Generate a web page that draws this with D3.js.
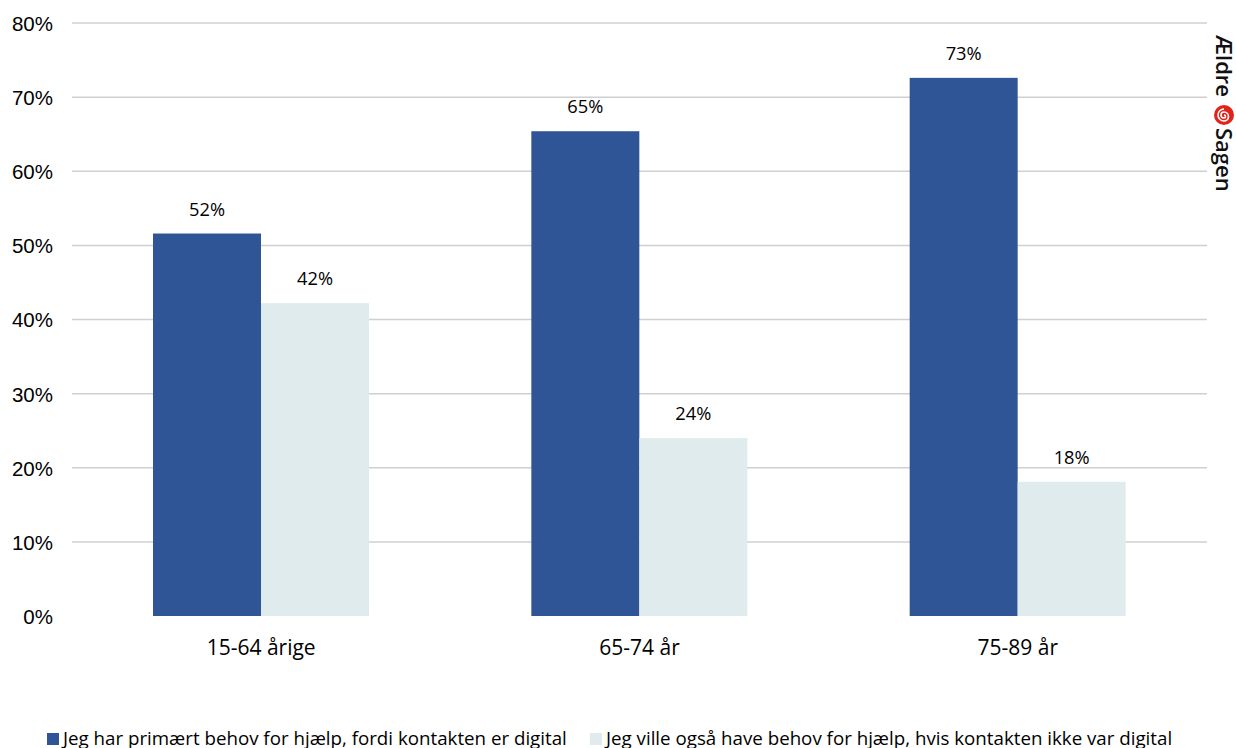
<!DOCTYPE html>
<html><head><meta charset="utf-8">
<script src="https://cdn.jsdelivr.net/npm/d3@7"></script>
<style>body{margin:0;background:#fff}svg{display:block}</style>
</head><body>
<svg id="c" width="1236" height="748"></svg>
<script>
const categories = ["15-64 årige", "65-74 år", "75-89 år"];
const seriesNames = ["Jeg har primært behov for hjælp, fordi kontakten er digital", "Jeg ville også have behov for hjælp, hvis kontakten ikke var digital"];
const primaryValues = [51.6, 65.4, 72.6];
const alsoValues = [42.2, 24.0, 18.1];
const yTicks = [0, 10, 20, 30, 40, 50, 60, 70, 80];
const colors = ["#2f5597", "#dfebed"];

const svg = d3.select("#c");
const pLeft = 72, pRight = 1207, pTop = 23, pBottom = 616;
const bodyFont = "Open Sans, sans-serif";

// find font size so that a sample string reaches a target width
function fitSize(sample, target, family, weight) {
  const t = svg.append("text").attr("font-family", family).attr("font-size", 100)
    .attr("font-weight", weight || 400).text(sample);
  const w = t.node().getComputedTextLength();
  t.remove();
  return 100 * target / w;
}
const labelSize = fitSize("52%", 36, bodyFont);
const catSize = fitSize("15-64 årige", 109, bodyFont);
const legSize = fitSize(seriesNames[0], 504, bodyFont);

const x0 = d3.scaleBand().domain(categories).range([pLeft, pRight]).padding(0);
const x1 = d3.scaleBand().domain([0, 1]).range([81, 297]).padding(0);
const y = d3.scaleLinear().domain([0, 80]).range([pBottom, pTop]);

// gridlines
svg.append("g").selectAll("line").data(yTicks.filter(d => d > 0)).join("line")
  .attr("x1", pLeft).attr("x2", pRight)
  .attr("y1", d => y(d)).attr("y2", d => y(d))
  .attr("stroke", "#d0d0d0").attr("stroke-width", 1.5);

// y axis labels
const yAxis = d3.axisLeft(y).tickValues(yTicks).tickFormat(d => d + "%").tickSize(0).tickPadding(0);
const ga = svg.append("g").attr("transform", `translate(${pLeft - 19},0)`).call(yAxis);
ga.select(".domain").remove();
ga.selectAll("text").attr("font-family", "Liberation Sans, Arial, sans-serif").attr("font-size", 20.5).attr("fill", "#000").attr("dy", "0.36em");

const data = categories.map((c, i) => ({c, vals: [primaryValues[i], alsoValues[i]]}));
const g = svg.append("g").selectAll("g").data(data).join("g")
  .attr("transform", d => `translate(${x0(d.c)},0)`);
g.selectAll("rect").data(d => d.vals.map((v, k) => ({v, k}))).join("rect")
  .attr("x", d => x1(d.k)).attr("width", x1.bandwidth())
  .attr("y", d => y(d.v)).attr("height", d => y(0) - y(d.v))
  .attr("fill", d => colors[d.k]);
g.selectAll("text").data(d => d.vals.map((v, k) => ({v, k}))).join("text")
  .attr("x", d => x1(d.k) + x1.bandwidth() / 2).attr("y", d => y(d.v) - 18)
  .attr("text-anchor", "middle")
  .attr("font-family", bodyFont).attr("font-size", labelSize).attr("fill", "#000")
  .text(d => Math.round(d.v) + "%");

// category labels
const xAxis = d3.axisBottom(x0).tickSize(0).tickPadding(0);
const gx = svg.append("g").attr("transform", `translate(0,${pBottom})`).call(xAxis);
gx.select(".domain").remove();
gx.selectAll("text").attr("font-family", bodyFont).attr("font-size", catSize).attr("fill", "#000")
  .attr("dy", 0).attr("y", 39);

// legend
const legX = [47, 590];
const lg = svg.append("g").selectAll("g").data(seriesNames).join("g")
  .attr("transform", (d, i) => `translate(${legX[i]},733)`);
lg.append("rect").attr("width", 12).attr("height", 12).attr("fill", (d, i) => colors[i]);
lg.append("text").attr("x", 16).attr("y", 12)
  .attr("font-family", bodyFont).attr("font-size", legSize).attr("fill", "#000")
  .text(d => d);

// logo
const logo = svg.append("g").attr("transform", "translate(1224,35) rotate(90)");
logo.append("text").attr("x", 0).attr("y", 8).attr("font-family", bodyFont)
  .attr("font-size", 22).attr("font-weight", 600).attr("fill", "#111").text("Ældre");
const sp = logo.append("g").attr("transform", "translate(80,0)");
sp.append("circle").attr("r", 10).attr("fill", "#e2231a");
sp.append("path").attr("d", "M0,0 a1.5,1.5 0 0,1 3,0 a3,3 0 0,1 -6,0 a4.5,4.5 0 0,1 9,0 a6,6 0 0,1 -12,0")
  .attr("fill", "none").attr("stroke", "#fff").attr("stroke-width", 1.6);
logo.append("text").attr("x", 93).attr("y", 8).attr("font-family", bodyFont)
  .attr("font-size", 22).attr("font-weight", 600).attr("fill", "#111").text("Sagen");
</script>
</body></html>
